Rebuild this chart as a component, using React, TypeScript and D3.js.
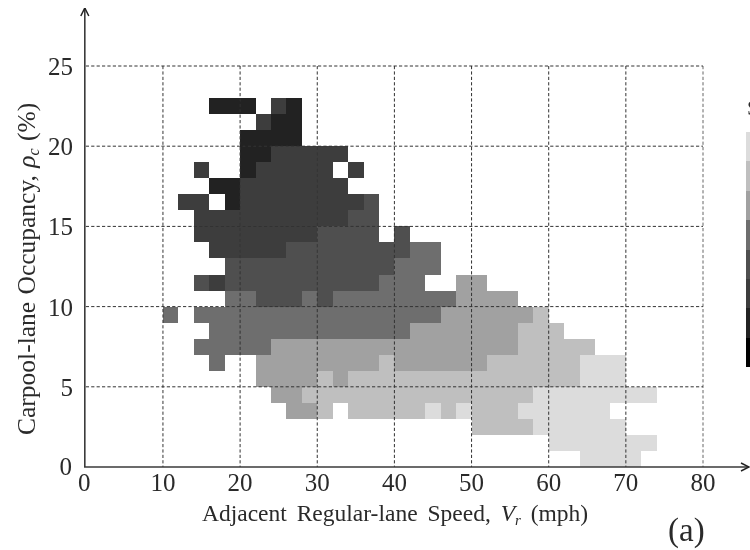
import React from "react";
import * as d3 from "d3";

// Speed ticks (mph) and occupancy ticks (%)
const speedTicks = [0, 10, 20, 30, 40, 50, 60, 70, 80];
const occupancyTicks = [0, 5, 10, 15, 20, 25];
const binWidth = 2; // mph per cell
const binHeight = 1; // % per cell

// Grey legend, lightest (level 0) to black (level 7)
const levelColors = ["#dcdcdc", "#bfbfbf", "#a1a1a1", "#6e6e6e", "#505050", "#3e3e3e", "#202020", "#000000"];

// Runs of cells per occupancy row: [first speed bin, last speed bin, level]; speed bin n = 2n mph
const row22 = [[8, 10, 6], [12, 12, 5], [13, 13, 6]];
const row21 = [[11, 11, 5], [12, 13, 6]];
const row20 = [[10, 13, 6]];
const row19 = [[10, 11, 6], [12, 16, 5]];
const row18 = [[7, 7, 5], [10, 10, 6], [11, 15, 5], [17, 17, 5]];
const row17 = [[8, 9, 6], [10, 16, 5]];
const row16 = [[6, 7, 5], [9, 9, 6], [10, 17, 5], [18, 18, 4]];
const row15 = [[7, 16, 5], [17, 18, 4]];
const row14 = [[7, 14, 5], [15, 18, 4], [20, 20, 4]];
const row13 = [[8, 12, 5], [13, 20, 4], [21, 22, 3]];
const row12 = [[9, 19, 4], [20, 22, 3]];
const row11 = [[7, 7, 4], [8, 8, 5], [9, 18, 4], [19, 21, 3], [24, 25, 2]];
const row10 = [[9, 10, 3], [11, 13, 4], [14, 14, 3], [15, 15, 4], [16, 23, 3], [24, 27, 2]];
const row9 = [[5, 5, 3], [7, 22, 3], [23, 28, 2], [29, 29, 1]];
const row8 = [[8, 20, 3], [21, 27, 2], [28, 30, 1]];
const row7 = [[7, 11, 3], [12, 27, 2], [28, 32, 1]];
const row6 = [[8, 8, 3], [11, 18, 2], [19, 19, 1], [20, 25, 2], [26, 31, 1], [32, 34, 0]];
const row5 = [[11, 14, 2], [15, 15, 1], [16, 16, 2], [17, 31, 1], [32, 34, 0]];
const row4 = [[12, 13, 2], [14, 28, 1], [29, 36, 0]];
const row3 = [[13, 14, 2], [15, 15, 1], [17, 21, 1], [22, 22, 0], [23, 23, 1], [24, 24, 0], [25, 27, 1], [28, 33, 0]];
const row2 = [[25, 28, 1], [29, 34, 0]];
const row1 = [[30, 36, 0]];
const row0 = [[32, 35, 0]];
const rows = [row0, row1, row2, row3, row4, row5, row6, row7, row8, row9, row10, row11, row12, row13, row14, row15, row16, row17, row18, row19, row20, row21, row22];

const FONT = "'Liberation Serif', 'Times New Roman', serif";
const INK = "#2a2a2a";

export default function App() {
  const x = d3.scaleLinear().domain([0, 80]).range([85.8, 703]);
  const y = d3.scaleLinear().domain([0, 25]).range([467, 66]);
  const legendY = d3.scaleLinear().domain([0, levelColors.length]).range([132, 367]);

  const cells = rows.flatMap((runs, r) =>
    runs.map(([a, b, level]) => ({ r, a, b, level }))
  );

  return (
    <svg
      width={750}
      height={550}
      style={{ position: "absolute", left: 0, top: 0, display: "block", background: "#fff" }}
      fontFamily={FONT}
      fill={INK}
    >
      <defs>
        <filter id="soft" x="0" y="0" width="100%" height="100%">
          <feGaussianBlur stdDeviation="0.45" />
        </filter>
        <marker id="arrow" viewBox="0 0 10 10" refX="9" refY="5" markerWidth="10" markerHeight="10" markerUnits="userSpaceOnUse" orient="auto">
          <path d="M1,1 L9,5 L1,9" fill="none" stroke="#222" strokeWidth="1.5" />
        </marker>
      </defs>
      <g filter="url(#soft)">
        {cells.map((c, i) => (
          <rect
            key={i}
            x={x(c.a * binWidth)}
            y={y(c.r + binHeight)}
            width={x((c.b + 1) * binWidth) - x(c.a * binWidth)}
            height={y(c.r) - y(c.r + binHeight)}
            fill={levelColors[c.level]}
            shapeRendering="crispEdges"
          />
        ))}

        {speedTicks.slice(1).map((v) => (
          <line key={v} x1={x(v)} x2={x(v)} y1={y(25)} y2={y(0)} stroke="#333" strokeOpacity={v === 80 ? 0.75 : 1} strokeWidth={1} strokeDasharray="3.2 2.2" />
        ))}
        {occupancyTicks.slice(1).map((v) => (
          <line key={v} x1={x(0)} x2={x(80)} y1={y(v)} y2={y(v)} stroke="#333" strokeWidth={1} strokeDasharray="3.2 2.2" />
        ))}

        <line x1={x(0) - 1} x2={x(0) - 1} y1={y(0)} y2={8} stroke="#3a3a3a" strokeWidth={1.6} markerEnd="url(#arrow)" />
        <line x1={x(0) - 1.8} x2={749} y1={y(0)} y2={y(0)} stroke="#3a3a3a" strokeWidth={1.6} markerEnd="url(#arrow)" />

        {speedTicks.map((v) => (
          <text key={v} x={x(v) - (v === 0 ? 1.5 : 0)} y={491} textAnchor="middle" fontSize={25}>{v}</text>
        ))}
        {occupancyTicks.map((v) => (
          <text key={v} x={v === 0 ? 72 : 73} y={y(v) + (v === 0 ? 8 : 9)} textAnchor="end" fontSize={25}>{v}</text>
        ))}

        <text x={202} y={521} fontSize={23.5} wordSpacing={4}>
          Adjacent Regular-lane Speed, <tspan fontStyle="italic">V</tspan>
          <tspan fontStyle="italic" fontSize={15} dy={4}>r</tspan>
          <tspan dy={-4}> (mph)</tspan>
        </text>
        <text transform="translate(35,435) rotate(-90)" fontSize={25.5} wordSpacing={1}>
          Carpool-lane Occupancy, <tspan fontStyle="italic">ρ</tspan>
          <tspan fontStyle="italic" fontSize={16} dy={4}>c</tspan>
          <tspan dy={-4}> (%)</tspan>
        </text>
        <text x={668} y={541} fontSize={33}>(a)</text>

        <text x={747} y={115} fontSize={22}>S</text>
        {levelColors.map((col, i) => (
          <rect key={col} x={745.7} y={legendY(i)} width={6} height={legendY(i + 1) - legendY(i)} fill={col} shapeRendering="crispEdges" />
        ))}
      </g>
    </svg>
  );
}
